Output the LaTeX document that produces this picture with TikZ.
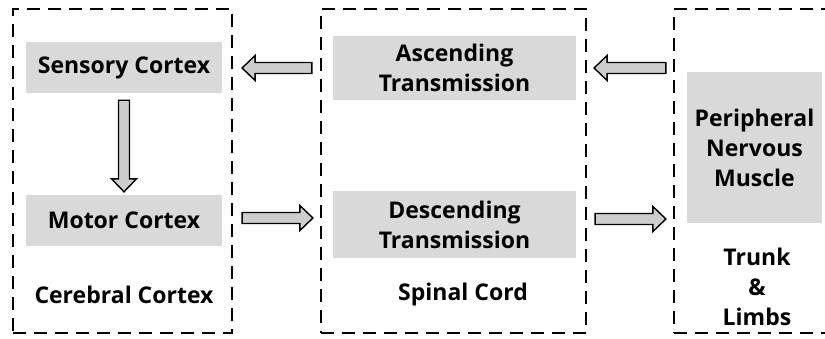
\documentclass[tikz,border=0pt]{standalone}
\usepackage{fontspec}
\setmainfont{Open Sans}
\usetikzlibrary{calc}
\definecolor{boxgrey}{RGB}{217,217,217}
\definecolor{arrowgrey}{RGB}{205,205,205}
\tikzset{
  region/.style={draw=black, line width=2.2pt, dash pattern=on 13pt off 8pt, minimum width=#1, inner sep=0pt},
  greybox/.style={fill=boxgrey, inner sep=0pt, align=center, font=\fontsize{23}{30}\selectfont\bfseries},
  label/.style={align=center, inner sep=0pt, font=\fontsize{23}{30}\selectfont\bfseries},
  barrow/.style={draw=black, line width=1.4pt, fill=arrowgrey, line join=miter}
}
\newcommand{\blockarrow}[2]{%
  \coordinate (n) at ($(#2)!13pt!(#1)$);
  \draw[barrow] ($(#1)!5.5pt!90:(#2)$) -- ($(n)!5.5pt!90:(#2)$) -- ($(n)!12.5pt!90:(#2)$) -- (#2)
    -- ($(n)!12.5pt!-90:(#2)$) -- ($(n)!5.5pt!-90:(#2)$) -- ($(#1)!5.5pt!-90:(#2)$) -- cycle;}
\begin{document}
\begin{tikzpicture}[x=1pt,y=-1pt]
\useasboundingbox (0,0) rectangle (825,338);
% regions
\node[region=219pt, minimum height=324pt] (cc) at (122.5,171) {};
\node[region=265pt, minimum height=324pt] (sc) at (453.5,171) {};
\node[region=170pt, minimum height=324pt] (tl) at (759,171) {};
% grey boxes
\node[greybox, minimum width=196pt, minimum height=51pt] (sens) at (124,67.5) {Sensory Cortex};
\node[greybox, minimum width=196pt, minimum height=51pt] (mot) at (124,220.5) {Motor Cortex};
\node[greybox, minimum width=243pt, minimum height=64pt] (asc) at (454.5,68) {Ascending\\Transmission};
\node[greybox, minimum width=243pt, minimum height=67pt] (desc) at (454.5,224.5) {Descending\\Transmission};
\node[greybox, minimum width=135pt, minimum height=151pt] (per) at (754.5,147.5) {Peripheral\\Nervous\\Muscle};
% labels
\node[label] (cclab) at (124,295) {Cerebral Cortex};
\node[label] (sclab) at (463,295) {Spinal Cord};
\node[label] (tllab) at (757,287) {Trunk\\\&\\Limbs};
% arrow end points
\coordinate (a1s) at ([xshift=-8pt]sc.west |- asc.center);
\coordinate (a1e) at ([xshift=9pt]cc.east |- asc.center);
\coordinate (a2s) at ([xshift=-7pt]tl.west |- asc.center);
\coordinate (a2e) at ([xshift=7pt]sc.east |- asc.center);
\coordinate (a3s) at ([xshift=9pt]cc.east |- 0,218);
\coordinate (a3e) at ([xshift=-7pt]sc.west |- 0,218);
\coordinate (a4s) at ([xshift=8pt]sc.east |- 0,219);
\coordinate (a4e) at ([xshift=-7pt]tl.west |- 0,219);
\coordinate (a5s) at ([yshift=-7pt]sens.south);
\coordinate (a5e) at ([yshift=3pt]mot.north);
\blockarrow{a1s}{a1e}
\blockarrow{a2s}{a2e}
\blockarrow{a3s}{a3e}
\blockarrow{a4s}{a4e}
\blockarrow{a5s}{a5e}
\end{tikzpicture}
\end{document}
